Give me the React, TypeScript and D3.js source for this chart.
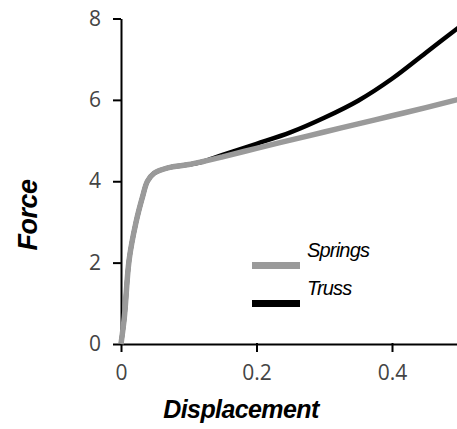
import React, { useEffect, useRef } from 'react';
import * as d3 from 'd3';

// displacement samples
const displacement = [0, 0.005, 0.012, 0.022, 0.032, 0.039, 0.049, 0.069, 0.1, 0.12, 0.15, 0.2, 0.25, 0.3, 0.35, 0.4, 0.45, 0.5];
const springs = [0, 0.67, 2.07, 2.98, 3.63, 4.0, 4.2, 4.33, 4.41, 4.48, 4.6, 4.81, 5.01, 5.21, 5.41, 5.61, 5.81, 6.02];
const truss = [0, 0.67, 2.07, 2.98, 3.63, 4.0, 4.2, 4.33, 4.41, 4.48, 4.65, 4.92, 5.2, 5.56, 5.98, 6.52, 7.16, 7.8];

const xTicks = [0, 0.2, 0.4];
const yTicks = [0, 2, 4, 6, 8];
const seriesNames = ['Springs', 'Truss'];
const seriesColors = ['#9a9a9a', '#000000'];

export default function App() {
  const ref = useRef<SVGSVGElement>(null);

  useEffect(() => {
    const svg = d3.select(ref.current);
    svg.selectAll('*').remove();

    const x = d3.scaleLinear().domain([0, 0.5]).range([121, 459.75]);
    const y = d3.scaleLinear().domain([0, 8]).range([344, 18.5]);

    const tickFont = "'Open Sans', sans-serif";

    // y axis
    const yAxis = svg.append('g')
      .attr('transform', 'translate(' + x(0) + ',0)')
      .call(d3.axisLeft(y).tickValues(yTicks).tickSize(8).tickSizeOuter(0).tickPadding(12));
    // x axis
    const xAxis = svg.append('g')
      .attr('transform', 'translate(0,' + y(0) + ')')
      .call(d3.axisBottom(x).tickValues(xTicks).tickSize(8).tickSizeOuter(0).tickPadding(13).tickFormat(d3.format('')));

    [yAxis, xAxis].forEach(a => {
      a.select('.domain').attr('stroke', '#000').attr('stroke-width', 2);
      a.selectAll('.tick line').attr('stroke', '#000').attr('stroke-width', 2);
      a.selectAll('.tick text')
        .attr('fill', '#444')
        .style('font-family', tickFont)
        .style('font-size', '21px');
    });
    xAxis.selectAll('.tick line').attr('y1', -1);

    const pts = displacement.map((d, i) => ({ d, s: springs[i], t: truss[i] }));

    const lineT = d3.line<any>().curve(d3.curveCatmullRom.alpha(0.5)).x(p => x(p.d)).y(p => y(p.t));
    const lineS = d3.line<any>().curve(d3.curveCatmullRom.alpha(0.5)).x(p => x(p.d)).y(p => y(p.s));

    svg.append('path').datum(pts)
      .attr('d', lineT)
      .attr('fill', 'none')
      .attr('stroke', seriesColors[1])
      .attr('stroke-width', 4.5)
      .attr('stroke-linejoin', 'round');

    svg.append('path').datum(pts)
      .attr('d', lineS)
      .attr('fill', 'none')
      .attr('stroke', seriesColors[0])
      .attr('stroke-width', 5.5)
      .attr('stroke-linejoin', 'round');

    // legend
    const legend = svg.append('g');
    seriesNames.forEach((name, i) => {
      const ly = 265.5 + i * 38;
      legend.append('line')
        .attr('x1', 252).attr('x2', 300)
        .attr('y1', ly).attr('y2', ly)
        .attr('stroke', seriesColors[i])
        .attr('stroke-width', 7);
      legend.append('text')
        .attr('x', 307).attr('y', ly - 8.5)
        .style('font-family', "'Liberation Sans', Arial, sans-serif")
        .style('font-style', 'italic')
        .style('font-size', '20px')
        .style('letter-spacing', '-0.8px')
        .attr('fill', '#000')
        .text(name);
    });

    // axis titles
    svg.append('text')
      .attr('x', 241).attr('y', 418)
      .attr('text-anchor', 'middle')
      .style('font-family', "'Liberation Sans', Arial, sans-serif")
      .style('font-weight', 'bold')
      .style('font-style', 'italic')
      .style('font-size', '25px')
      .style('letter-spacing', '-0.6px')
      .text('Displacement');

    svg.append('text')
      .attr('transform', 'translate(37,215) rotate(-90)')
      .attr('text-anchor', 'middle')
      .style('font-family', "'Liberation Sans', Arial, sans-serif")
      .style('font-weight', 'bold')
      .style('font-style', 'italic')
      .style('font-size', '27px')
      .style('letter-spacing', '-0.5px')
      .text('Force');
  }, []);

  return (
    <svg ref={ref} width={457} height={429}
      style={{ position: 'absolute', left: 0, top: 0, background: '#fff' }} />
  );
}
